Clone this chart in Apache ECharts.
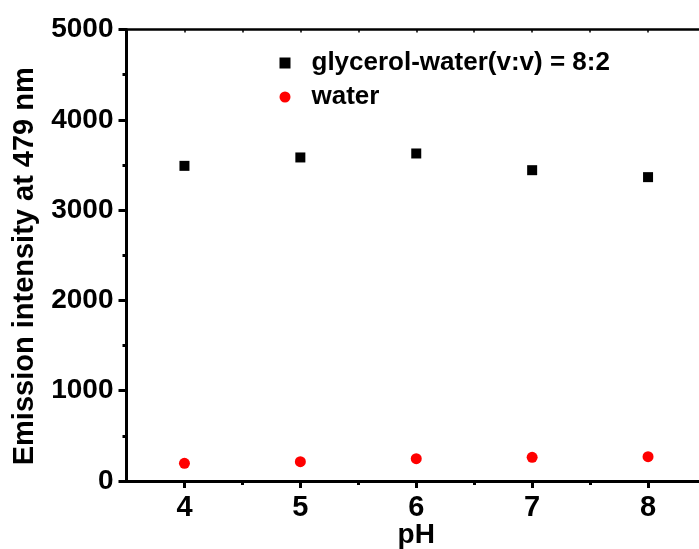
<!DOCTYPE html>
<html>
<head>
<meta charset="utf-8">
<script src="https://cdn.jsdelivr.net/npm/echarts@6/dist/echarts.min.js"></script>
<style>
  html, body { margin: 0; padding: 0; background: #fff; }
  #chart { width: 699px; height: 549px; }
</style>
</head>
<body>
<div id="chart"></div>
<script>
// pH values and emission intensities at 479 nm
const phValues = [4, 5, 6, 7, 8];
const glycerolWater = [3490, 3583, 3627, 3442, 3365];
const waterOnly = [196, 214, 247, 262, 269];

const majorTicks = [4, 5, 6, 7, 8];
const minorTicks = [4.5, 5.5, 6.5, 7.5];
const topTicks = [4, 4.5, 5, 5.5, 6, 6.5, 7, 7.5, 8];

const seriesNames = ['glycerol-water(v:v) = 8:2', 'water'];

const FONT = '"Liberation Sans", Arial, Helvetica, sans-serif';

const chart = echarts.init(document.getElementById('chart'), null, { renderer: 'canvas' });

const pairs = (ys) => phValues.map((x, i) => [x, ys[i]]);

chart.setOption({
  animation: false,
  backgroundColor: '#ffffff',
  grid: {
    left: 126.5, top: 29.5, bottom: 68, right: -7,
    containLabel: false, outerBoundsMode: 'none'
  },
  legend: {
    orient: 'vertical',
    left: 274.5,
    top: 45,
    itemWidth: 11,
    itemHeight: 11,
    itemGap: 8,
    selectedMode: false,
    data: [
      { name: seriesNames[0], icon: 'rect' },
      { name: seriesNames[1], icon: 'circle' }
    ],
    textStyle: {
      fontFamily: FONT, fontWeight: 'bold', fontSize: 26, color: '#000',
      padding: [0, 0, 0, 16]
    }
  },
  xAxis: [
    {
      type: 'value', min: 3.5, max: 8.5, position: 'bottom',
      name: 'pH', nameLocation: 'middle', nameGap: 40, nameMoveOverlap: false,
      nameTextStyle: { fontFamily: FONT, fontWeight: 'bold', fontSize: 28, color: '#000' },
      axisLine: { show: true, onZero: false, lineStyle: { color: '#000', width: 3 } },
      axisTick: { show: true, inside: false, length: 7, customValues: majorTicks, lineStyle: { color: '#000', width: 3 } },
      axisLabel: {
        show: true, margin: 12, customValues: majorTicks,
        fontFamily: FONT, fontWeight: 'bold', fontSize: 29, color: '#000'
      },
      splitLine: { show: false }
    },
    {
      type: 'value', min: 3.5, max: 8.5, position: 'bottom', offset: 0,
      axisLine: { show: false, onZero: false },
      axisTick: { show: true, inside: false, length: 4, customValues: minorTicks, lineStyle: { color: '#000', width: 3 } },
      axisLabel: { show: false },
      splitLine: { show: false }
    },
    {
      type: 'value', min: 3.5, max: 8.5, position: 'top',
      axisLine: { show: true, onZero: false, lineStyle: { color: '#000', width: 2.5 } },
      axisTick: { show: true, inside: true, length: 3, customValues: topTicks, lineStyle: { color: '#000', width: 1.5 } },
      axisLabel: { show: false },
      splitLine: { show: false }
    }
  ],
  yAxis: {
    type: 'value', min: 0, max: 5000, interval: 1000,
    name: 'Emission intensity at 479 nm', nameLocation: 'middle', nameGap: 87,
    nameTextStyle: { fontFamily: FONT, fontWeight: 'bold', fontSize: 29, color: '#000', padding: [0, 22, 0, 0] },
    axisLine: { show: true, onZero: false, lineStyle: { color: '#000', width: 3 } },
    axisTick: { show: true, inside: false, length: 8, lineStyle: { color: '#000', width: 3 } },
    minorTick: { show: true, splitNumber: 2, length: 4, lineStyle: { color: '#000', width: 3 } },
    axisLabel: {
      margin: 13, fontFamily: FONT, fontWeight: 'bold', fontSize: 28, color: '#000',
      formatter: (v) => String(v)
    },
    splitLine: { show: false }
  },
  series: [
    {
      name: seriesNames[0], type: 'scatter', xAxisIndex: 0,
      symbol: 'rect', symbolSize: 10,
      itemStyle: { color: '#000000', opacity: 1 },
      data: pairs(glycerolWater)
    },
    {
      name: seriesNames[1], type: 'scatter', xAxisIndex: 0,
      symbol: 'circle', symbolSize: 11,
      itemStyle: { color: '#ff0000', opacity: 1 },
      data: pairs(waterOnly)
    }
  ]
});
</script>
</body>
</html>
